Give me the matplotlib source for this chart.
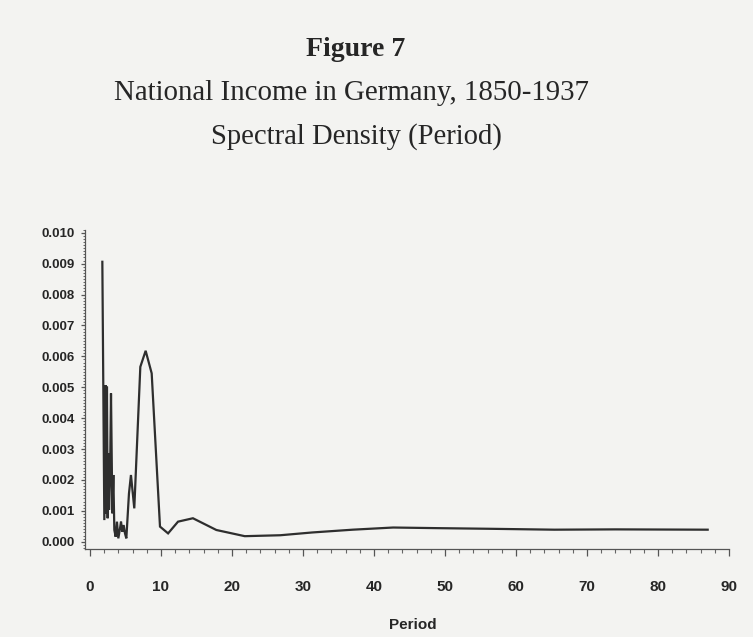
import numpy as np
import matplotlib.pyplot as plt
from matplotlib.ticker import MultipleLocator, FormatStrFormatter

# Spectral density of German national income
period = [1.74, 2.02, 2.21, 2.30, 2.39, 2.49, 2.58, 2.68, 2.82, 2.96,
          3.15, 3.29, 3.43, 3.62, 3.80, 3.99, 4.23, 4.37, 4.55, 4.74,
          4.93, 5.12, 5.49, 5.77, 6.24, 7.09, 7.84, 8.69, 9.86, 11.0,
          12.4, 14.5, 17.8, 21.8, 26.8, 31.3, 37.0, 42.7, 48.9, 56.0,
          65.4, 74.0, 87.0]
density = [0.00906, 0.00070, 0.00507, 0.00092, 0.00502, 0.00076, 0.00286, 0.00103, 0.00199, 0.00480,
           0.00092, 0.00216, 0.00038, 0.00016, 0.00065, 0.00011, 0.00043, 0.00065, 0.00032, 0.00054,
           0.00027, 0.00011, 0.00156, 0.00216, 0.00108, 0.00566, 0.00618, 0.00545, 0.00049, 0.00027,
           0.00065, 0.00076, 0.00038, 0.00018, 0.00021, 0.00030, 0.00039, 0.00046, 0.00044, 0.00042,
           0.00039, 0.00040, 0.00039]

title_lines = ["Figure 7", "National Income in Germany, 1850-1937", "Spectral Density (Period)"]

paper = "#f3f3f1"
ink = "#262626"

fig = plt.figure(figsize=(7.53, 6.37), dpi=100, facecolor=paper)
ax = fig.add_axes([0.1129, 0.1381, 0.8552, 0.5014], facecolor=paper)

ax.plot(period, density, color="#2e2e2e", lw=1.6, solid_joinstyle="miter")

ax.set_xlim(-0.7, 90)
ax.set_ylim(-0.000236, 0.0101)

for s in ["top", "right"]:
    ax.spines[s].set_visible(False)
for s in ["left", "bottom"]:
    ax.spines[s].set_color("#555555")
    ax.spines[s].set_linewidth(0.9)

ax.xaxis.set_major_locator(MultipleLocator(10))
ax.xaxis.set_minor_locator(MultipleLocator(2))
ax.yaxis.set_major_locator(MultipleLocator(0.001))
ax.yaxis.set_minor_locator(MultipleLocator(0.0001))
ax.yaxis.set_major_formatter(FormatStrFormatter("%.3f"))

ax.tick_params(axis="x", which="major", length=5, width=0.9, color="#555555", pad=17.5,
               labelsize=11, labelcolor=ink)
ax.tick_params(axis="x", which="minor", length=3, width=0.8, color="#666666")
ax.tick_params(axis="y", which="major", length=3, width=0.9, color="#555555", pad=4.3,
               labelsize=9.5, labelcolor=ink)
ax.tick_params(axis="y", which="minor", length=1.6, width=0.7, color="#666666")
for lab in ax.get_xticklabels() + ax.get_yticklabels():
    lab.set_fontfamily("Liberation Sans")
    lab.set_fontweight("bold")

ax.set_xlabel("Period", fontfamily="Liberation Sans", fontweight="bold", fontsize=11,
              color=ink, labelpad=17, x=0.509)

# title block, three centred lines
ys = [1 - 56 / 637, 1 - 100 / 637, 1 - 144 / 637]
xs = [356 / 753, 351 / 753, 356 / 753]
sizes = [20, 20.8, 20.6]
for i, txt in enumerate(title_lines):
    fig.text(xs[i], ys[i], txt, ha="center", va="baseline", fontsize=sizes[i], color=ink,
             fontfamily="Liberation Serif", fontweight="bold" if i == 0 else "normal")

fig.savefig("out.png", dpi=100, facecolor=paper)
